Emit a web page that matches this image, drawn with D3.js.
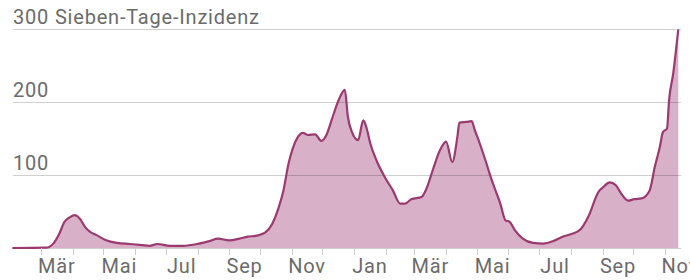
<!DOCTYPE html>
<html>
<head>
<meta charset="utf-8">
<script src="https://cdn.jsdelivr.net/npm/d3@7"></script>
<style>
  body { margin: 0; background: #fff; }
  text { font-family: Roboto, sans-serif; font-size: 20px; letter-spacing: 0.8px; fill: #6b6b6b; }
</style>
</head>
<body>
<svg width="690" height="280"></svg>
<script>
// Sieben-Tage-Inzidenz
const dates = [
  '2020-02-02', '2020-03-06', '2020-03-09', '2020-03-13', '2020-03-19', '2020-03-24', '2020-03-29',
  '2020-04-03', '2020-04-08', '2020-04-13', '2020-04-18', '2020-04-24', '2020-05-03', '2020-05-14',
  '2020-05-27', '2020-06-08', '2020-06-15', '2020-06-23', '2020-07-05', '2020-07-18', '2020-08-01',
  '2020-08-13', '2020-08-21', '2020-09-01', '2020-09-11', '2020-09-19', '2020-09-28', '2020-10-06',
  '2020-10-13', '2020-10-19', '2020-10-24', '2020-10-29', '2020-11-02', '2020-11-07', '2020-11-12',
  '2020-11-17', '2020-11-24', '2020-11-30', '2020-12-05', '2020-12-10', '2020-12-17', '2020-12-23',
  '2020-12-26', '2020-12-30', '2021-01-05', '2021-01-10', '2021-01-13', '2021-01-17', '2021-01-23',
  '2021-02-01', '2021-02-08', '2021-02-15', '2021-02-20', '2021-02-26', '2021-03-08', '2021-03-13',
  '2021-03-19', '2021-03-26', '2021-04-01', '2021-04-07', '2021-04-12', '2021-04-14', '2021-04-21',
  '2021-04-26', '2021-04-29', '2021-05-04', '2021-05-10', '2021-05-14', '2021-05-19', '2021-05-24',
  '2021-05-29', '2021-06-02', '2021-06-07', '2021-06-15', '2021-06-25', '2021-07-05', '2021-07-15',
  '2021-07-24', '2021-08-03', '2021-08-10', '2021-08-18', '2021-08-28', '2021-09-02', '2021-09-08',
  '2021-09-14', '2021-09-19', '2021-09-26', '2021-10-02', '2021-10-09', '2021-10-17', '2021-10-22',
  '2021-10-27', '2021-10-30', '2021-11-03', '2021-11-05', '2021-11-09', '2021-11-14'
];
const values = [
  0, 0.5, 1.5, 6, 20, 36, 42,
  45, 40, 29, 22, 18, 11, 7,
  5.5, 4, 3, 5.5, 3, 3, 5.5,
  9.6, 12.8, 10.5, 12.8, 15.5, 17, 21,
  33, 54, 79, 116, 136, 152, 158,
  155, 156, 147, 155, 175, 203, 217,
  180, 159, 148, 175, 166, 143, 120,
  95, 79, 61, 61, 67, 70, 82,
  107, 134, 146, 118, 152, 172, 173,
  174, 162, 143, 118, 100, 80, 61,
  38, 36, 25, 13, 7, 6, 9.6,
  15.5, 20, 25, 43, 77, 84, 90,
  86, 75, 65, 67, 68, 79, 111,
  139, 159, 164, 203, 239, 300
];
const gridValues = [0, 100, 200, 300];
const labelMonths = ['2020-03', '2020-05', '2020-07', '2020-09', '2020-11', '2021-01',
  '2021-03', '2021-05', '2021-07', '2021-09', '2021-11'];
const labelTexts = ['Mär', 'Mai', 'Jul', 'Sep', 'Nov', 'Jan', 'Mär', 'Mai', 'Jul', 'Sep', 'Nov'];

const parseDay = d3.utcParse('%Y-%m-%d');
const parseMonth = d3.utcParse('%Y-%m');
const data = dates.map((d, i) => ({ date: parseDay(d), value: values[i] }));

const svg = d3.select('svg');

const x = d3.scaleUtc()
  .domain([parseDay('2020-03-01'), parseDay('2021-11-01')])
  .range([41, 665]);
const y = d3.scaleLinear().domain([0, 300]).range([248, 29.3]);

// area + line
const area = d3.area()
  .x((d) => x(d.date))
  .y0(y(0))
  .y1((d) => y(d.value))
  .curve(d3.curveMonotoneX);
const line = d3.line()
  .x((d) => x(d.date))
  .y((d) => y(d.value))
  .curve(d3.curveMonotoneX);

svg.append('path').datum(data).attr('d', area).attr('fill', '#d8b1c8');

// gridlines on top of the fill
svg.append('g')
  .selectAll('line')
  .data(gridValues)
  .join('line')
  .attr('x1', 13)
  .attr('x2', 681)
  .attr('y1', (d) => Math.round(y(d)) + 0.5)
  .attr('y2', (d) => Math.round(y(d)) + 0.5)
  .attr('stroke', '#000')
  .attr('stroke-opacity', 0.19);

svg.append('path').datum(data)
  .attr('d', line)
  .attr('fill', 'none')
  .attr('stroke', '#9b3a6e')
  .attr('stroke-width', 2.2)
  .attr('stroke-linejoin', 'round');

// y labels
svg.append('g')
  .selectAll('text')
  .data(gridValues.filter((d) => d > 0))
  .join('text')
  .attr('x', 13)
  .attr('y', (d) => y(d) - 5)
  .text((d) => (d === 300 ? '300 Sieben-Tage-Inzidenz' : d));

// month ticks
const months = d3.utcMonth.range(parseDay('2020-03-01'), parseDay('2021-11-02'));
svg.append('g')
  .selectAll('line')
  .data(months)
  .join('line')
  .attr('x1', (d) => Math.round(x(d)) + 0.5)
  .attr('x2', (d) => Math.round(x(d)) + 0.5)
  .attr('y1', 248)
  .attr('y2', 255)
  .attr('stroke', '#ccc');

// month labels, centred on the middle of the month
svg.append('g')
  .selectAll('text')
  .data(labelMonths)
  .join('text')
  .attr('x', (d) => {
    const start = parseMonth(d);
    return x(new Date((+start + +d3.utcMonth.offset(start, 1)) / 2));
  })
  .attr('y', 273)
  .attr('text-anchor', 'middle')
  .text((d, i) => labelTexts[i]);
</script>
</body>
</html>
